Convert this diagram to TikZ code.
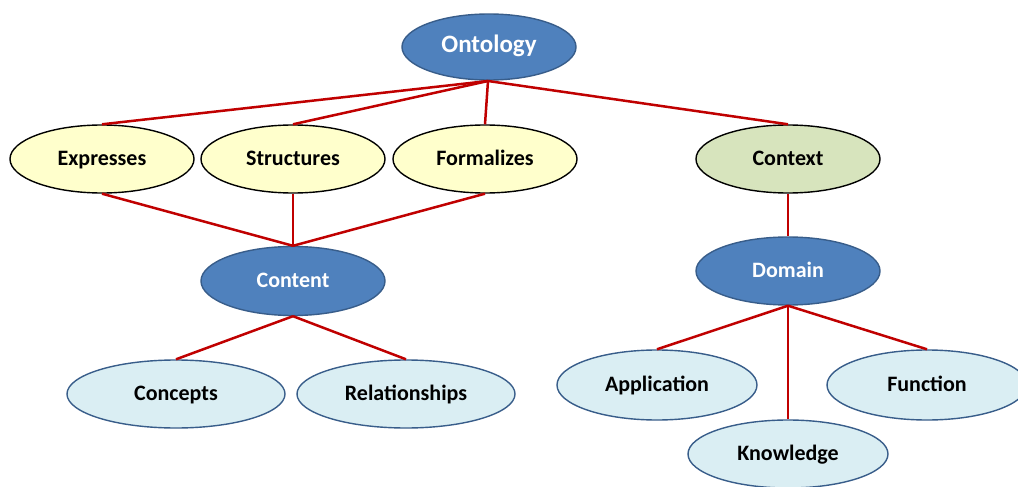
\documentclass[tikz,border=0pt]{standalone}
\usepackage{fontspec}
\setmainfont{Carlito}
\usetikzlibrary{shapes.geometric}
\definecolor{dkblue}{HTML}{4F81BD}
\definecolor{dkedge}{HTML}{385D8A}
\definecolor{yel}{HTML}{FFFFCC}
\definecolor{grn}{HTML}{D7E4BD}
\definecolor{ltblue}{HTML}{DAEEF3}
\definecolor{redline}{HTML}{C00000}
\tikzset{
  base/.style={ellipse, inner sep=0pt, line width=1.4pt, text height=1.2em, text depth=0em, font=\bfseries\fontsize{22}{24}\selectfont},
  bluebox/.style={base, fill=dkblue, draw=dkedge, text=white},
  yelbox/.style={base, fill=yel, draw=black, minimum width=184pt, minimum height=68pt},
  grnbox/.style={base, fill=grn, draw=black, minimum width=184pt, minimum height=68pt},
  leafbox/.style={base, fill=ltblue, draw=dkedge, minimum height=68pt},
  link/.style={draw=redline, line width=2.5pt}
}
\begin{document}
\begin{tikzpicture}[x=1pt,y=1pt]
\clip (0,0) rectangle (1018,-487);
\fill[white] (0,0) rectangle (1018,-487);
\node[bluebox, minimum width=174pt, minimum height=66pt, font=\bfseries\fontsize{25}{27}\selectfont] (onto) at (489,-47) {Ontology};
\node[yelbox] (expr) at (102,-159) {Expresses};
\node[yelbox] (stru) at (293,-159) {Structures};
\node[yelbox] (form) at (485,-159) {Formalizes};
\node[grnbox] (ctx) at (788,-159) {Context};
\node[bluebox, minimum width=184pt, minimum height=69pt] (cont) at (293,-281) {Content};
\node[bluebox, minimum width=184pt, minimum height=68pt] (dom) at (788,-271) {Domain};
\node[leafbox, minimum width=218pt] (conc) at (176,-394) {Concepts};
\node[leafbox, minimum width=218pt] (rel) at (406,-394) {Relationships};
\node[leafbox, minimum width=200pt, minimum height=70pt] (app) at (657,-385) {Application};
\node[leafbox, minimum width=200pt, minimum height=70pt] (fun) at (927,-385) {Function};
\node[leafbox, minimum width=200pt] (know) at (788,-454) {Knowledge};
\coordinate (ob) at (488,-81);
\draw[link] (ob) -- (expr.north);
\draw[link] (ob) -- (stru.north);
\draw[link] (ob) -- (form.north);
\draw[link] (ob) -- (ctx.north);
\draw[link] (expr.south) -- (cont.north);
\draw[link] (stru.south) -- (cont.north);
\draw[link] (form.south) -- (cont.north);
\draw[link] (ctx.south) -- (dom.north);
\draw[link] (cont.south) -- (conc.north);
\draw[link] (cont.south) -- (rel.north);
\draw[link] (dom.south) -- (app.north);
\draw[link] (dom.south) -- (know.north);
\draw[link] (dom.south) -- (fun.north);
\end{tikzpicture}
\end{document}
